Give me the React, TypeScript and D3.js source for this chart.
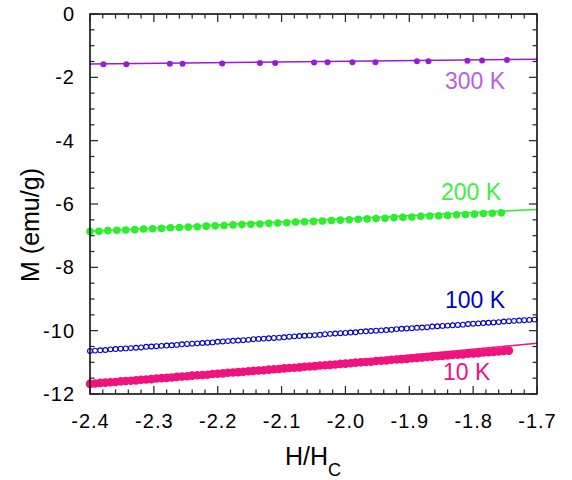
import React, { useEffect, useRef } from 'react';
import * as d3 from 'd3';

// 300 K (sparse points)
const h300K = [-2.379, -2.343, -2.275, -2.255, -2.193, -2.134, -2.110, -2.049, -2.028, -1.989, -1.953, -1.888, -1.870, -1.809, -1.786, -1.747];
const m300K = [-1.59, -1.59, -1.57, -1.57, -1.56, -1.55, -1.55, -1.53, -1.52, -1.52, -1.52, -1.49, -1.49, -1.48, -1.47, -1.45];

// 200 K
const h200K = [-2.400, -2.386, -2.372, -2.358, -2.344, -2.330, -2.316, -2.302, -2.288, -2.274, -2.260, -2.246, -2.232, -2.218, -2.204, -2.190, -2.176, -2.162, -2.148, -2.134, -2.120, -2.106, -2.092, -2.078, -2.064, -2.050, -2.036, -2.022, -2.008, -1.994, -1.980, -1.966, -1.952, -1.938, -1.924, -1.910, -1.896, -1.882, -1.868, -1.854, -1.840, -1.826, -1.812, -1.798, -1.784, -1.770, -1.756];
const m200K = [-6.87, -6.86, -6.84, -6.83, -6.82, -6.81, -6.79, -6.78, -6.77, -6.75, -6.74, -6.73, -6.72, -6.70, -6.69, -6.68, -6.66, -6.65, -6.64, -6.63, -6.61, -6.60, -6.59, -6.57, -6.56, -6.55, -6.54, -6.52, -6.51, -6.50, -6.48, -6.47, -6.46, -6.45, -6.43, -6.42, -6.41, -6.39, -6.38, -6.37, -6.36, -6.34, -6.33, -6.32, -6.30, -6.29, -6.28];

// field sweep shared by 100 K and 10 K
const hSweep = [-2.400, -2.392, -2.384, -2.376, -2.368, -2.360, -2.352, -2.344, -2.336, -2.328, -2.320, -2.312, -2.304, -2.296, -2.288, -2.280, -2.272, -2.264, -2.256, -2.248, -2.240, -2.232, -2.224, -2.216, -2.208, -2.200, -2.192, -2.184, -2.176, -2.168, -2.160, -2.152, -2.144, -2.136, -2.128, -2.120, -2.112, -2.104, -2.096, -2.088, -2.080, -2.072, -2.064, -2.056, -2.048, -2.040, -2.032, -2.024, -2.016, -2.008, -2.000, -1.992, -1.984, -1.976, -1.968, -1.960, -1.952, -1.944, -1.936, -1.928, -1.920, -1.912, -1.904, -1.896, -1.888, -1.880, -1.872, -1.864, -1.856, -1.848, -1.840, -1.832, -1.824, -1.816, -1.808, -1.800, -1.792, -1.784, -1.776, -1.768, -1.760, -1.752, -1.744, -1.736, -1.728, -1.720, -1.712, -1.704];
const m100K = [-10.64, -10.63, -10.62, -10.61, -10.59, -10.58, -10.57, -10.56, -10.55, -10.54, -10.53, -10.51, -10.50, -10.49, -10.48, -10.47, -10.46, -10.45, -10.43, -10.42, -10.41, -10.40, -10.39, -10.38, -10.37, -10.35, -10.34, -10.33, -10.32, -10.31, -10.30, -10.29, -10.27, -10.26, -10.25, -10.24, -10.23, -10.22, -10.21, -10.19, -10.18, -10.17, -10.16, -10.15, -10.14, -10.13, -10.11, -10.10, -10.09, -10.08, -10.07, -10.06, -10.05, -10.03, -10.02, -10.01, -10.00, -9.99, -9.98, -9.97, -9.95, -9.94, -9.93, -9.92, -9.91, -9.90, -9.89, -9.87, -9.86, -9.85, -9.84, -9.83, -9.82, -9.81, -9.79, -9.78, -9.77, -9.76, -9.75, -9.74, -9.73, -9.71, -9.70, -9.69, -9.68, -9.67, -9.66, -9.65];
const m10K = [-11.68, -11.67, -11.65, -11.64, -11.63, -11.62, -11.60, -11.59, -11.58, -11.57, -11.55, -11.54, -11.53, -11.51, -11.50, -11.49, -11.48, -11.46, -11.45, -11.44, -11.42, -11.41, -11.40, -11.39, -11.37, -11.36, -11.35, -11.33, -11.32, -11.31, -11.30, -11.28, -11.27, -11.26, -11.25, -11.23, -11.22, -11.21, -11.19, -11.18, -11.17, -11.16, -11.14, -11.13, -11.12, -11.10, -11.09, -11.08, -11.07, -11.05, -11.04, -11.03, -11.01, -11.00, -10.99, -10.98, -10.96, -10.95, -10.94, -10.92, -10.91, -10.90, -10.89, -10.87, -10.86, -10.85, -10.83, -10.82, -10.81, -10.80, -10.78, -10.77, -10.76, -10.75, -10.73, -10.72, -10.71, -10.69, -10.68, -10.67, -10.66, -10.64, -10.63];

// linear fits
const fitH = [-2.4, -1.7];
const fit300K = [-1.58, -1.43];
const fit200K = [-6.86, -6.17];
const fit10K = [-11.72, -10.40];

const xTicks = [-2.4, -2.3, -2.2, -2.1, -2.0, -1.9, -1.8, -1.7];
const yTicks = [0, -2, -4, -6, -8, -10, -12];

const FONT = '"Liberation Sans", Arial, Helvetica, sans-serif';

const App: React.FC = () => {
  const svgRef = useRef<SVGSVGElement>(null);

  useEffect(() => {
    if (!svgRef.current) return;
    const svg = d3.select(svgRef.current);
    svg.selectAll('*').remove();

    const left = 90, right = 537, top = 14, bottom = 394;
    const x = d3.scaleLinear().domain([-2.4, -1.7]).range([left, right]);
    const y = d3.scaleLinear().domain([-12, 0]).range([bottom, top]);

    const g = svg.append('g');

    // fit lines
    const line = d3.line<number>().x((_, i) => x(fitH[i])).y(d => y(d));
    const fits = [
      { m: fit300K, color: '#9a1ad8' },
      { m: fit200K, color: '#2cef2c' },
      { m: fit10K, color: '#f0127f' },
    ];
    fits.forEach(f => {
      g.append('path')
        .attr('d', line(f.m))
        .attr('fill', 'none')
        .attr('stroke', f.color)
        .attr('stroke-width', 1.5);
    });

    // 10 K filled
    g.append('g').selectAll('circle')
      .data(m10K)
      .enter().append('circle')
      .attr('cx', (_, i) => x(hSweep[i]))
      .attr('cy', d => y(d))
      .attr('r', 4.3)
      .attr('fill', '#f0127f');

    // 100 K open
    g.append('g').selectAll('circle')
      .data(m100K)
      .enter().append('circle')
      .attr('cx', (_, i) => x(hSweep[i]))
      .attr('cy', d => y(d))
      .attr('r', 2.4)
      .attr('fill', 'white')
      .attr('stroke', '#0000cc')
      .attr('stroke-width', 1.1);

    // 200 K filled
    g.append('g').selectAll('circle')
      .data(m200K)
      .enter().append('circle')
      .attr('cx', (_, i) => x(h200K[i]))
      .attr('cy', d => y(d))
      .attr('r', 3.8)
      .attr('fill', '#2cef2c');

    // 300 K filled
    g.append('g').selectAll('circle')
      .data(m300K)
      .enter().append('circle')
      .attr('cx', (_, i) => x(h300K[i]))
      .attr('cy', d => y(d))
      .attr('r', 3)
      .attr('fill', '#9a1ad8');

    // frame
    g.append('rect')
      .attr('x', left).attr('y', top)
      .attr('width', right - left).attr('height', bottom - top)
      .attr('fill', 'none').attr('stroke', '#000').attr('stroke-width', 1.5);

    // ticks (inward, mirrored)
    const ax = svg.append('g').attr('stroke', '#222').attr('stroke-width', 1.2);
    const xMinor = d3.range(0, 36).map(i => -2.4 + i * 0.02);
    xMinor.forEach((v, i) => {
      const len = i % 5 === 0 ? 8 : 4.5;
      ax.append('line').attr('x1', x(v)).attr('x2', x(v)).attr('y1', bottom).attr('y2', bottom - len);
      ax.append('line').attr('x1', x(v)).attr('x2', x(v)).attr('y1', top).attr('y2', top + len);
    });
    const yMinor = d3.range(0, 25).map(i => -12 + i * 0.5);
    yMinor.forEach((v, i) => {
      const len = i % 4 === 0 ? 8 : 4.5;
      ax.append('line').attr('y1', y(v)).attr('y2', y(v)).attr('x1', left).attr('x2', left + len);
      ax.append('line').attr('y1', y(v)).attr('y2', y(v)).attr('x1', right).attr('x2', right - len);
    });

    // tick labels
    svg.append('g').selectAll('text')
      .data(xTicks)
      .enter().append('text')
      .attr('x', d => x(d) + 0.5)
      .attr('y', 428)
      .attr('text-anchor', 'middle')
      .style('font-family', FONT)
      .style('font-size', '20px')
      .style('letter-spacing', '1px')
      .text(d => d.toFixed(1));

    svg.append('g').selectAll('text')
      .data(yTicks)
      .enter().append('text')
      .attr('x', 75)
      .attr('y', d => y(d) + 7)
      .attr('text-anchor', 'end')
      .style('font-family', FONT)
      .style('font-size', '20px')
      .style('letter-spacing', '1px')
      .text(d => String(d));

    // axis titles
    svg.append('text')
      .attr('transform', 'translate(39, 225) rotate(-90)')
      .attr('text-anchor', 'middle')
      .style('font-family', FONT)
      .style('font-size', '25px')
      .text('M (emu/g)');

    const xt = svg.append('text')
      .attr('x', 313)
      .attr('y', 465)
      .attr('text-anchor', 'middle')
      .style('font-family', FONT)
      .style('font-size', '25px');
    xt.append('tspan').text('H/H');
    xt.append('tspan').attr('dy', 11).style('font-size', '18px').text('C');

    // series labels
    const labels = [
      { text: '300 K', x: 445, y: 89, color: '#bd5ddf' },
      { text: '200 K', x: 441, y: 200, color: '#3ef03e' },
      { text: '100 K', x: 445, y: 308, color: '#0000cc' },
      { text: '10 K', x: 443, y: 380, color: '#f0127f' },
    ];
    labels.forEach(l => {
      svg.append('text')
        .attr('x', l.x).attr('y', l.y)
        .style('font-family', FONT)
        .style('font-size', '23px')
        .attr('fill', l.color)
        .text(l.text);
    });
  }, []);

  return (
    <svg
      ref={svgRef}
      width={572}
      height={480}
      style={{ position: 'absolute', left: 0, top: 0, background: 'white' }}
    />
  );
};

export default App;
